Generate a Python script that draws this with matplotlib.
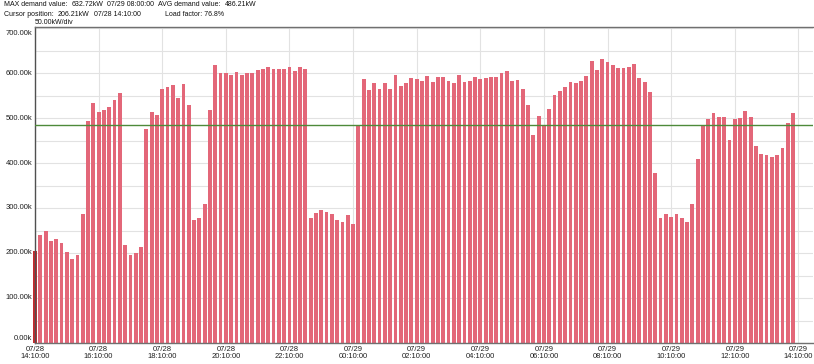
import matplotlib
matplotlib.use("Agg")
from matplotlib import pyplot as plt
from matplotlib import font_manager
from matplotlib import transforms

# demand readings, kW, every 10 min from 07/28 14:10
demand = [
    206.21, 241, 250, 228, 231, 224, 204, 187, 196, 288,
    495, 535, 515, 519, 525, 541, 556, 218, 196, 201,
    214, 477, 514, 507, 565, 570, 574, 546, 577, 530,
    274, 278, 310, 518, 619, 601, 601, 597, 603, 597,
    601, 601, 607, 610, 614, 610, 610, 610, 615, 605,
    615, 610, 279, 290, 296, 293, 287, 274, 270, 286,
    266, 484, 587, 563, 578, 565, 579, 566, 596, 572,
    579, 590, 587, 583, 595, 581, 592, 592, 583, 578,
    596, 581, 584, 592, 587, 590, 592, 592, 601, 605,
    584, 585, 565, 531, 464, 505, 485, 521, 552, 561,
    570, 580, 578, 584, 594, 627, 607, 632.72, 625, 618,
    612, 612, 615, 622, 589, 580, 558, 379, 278, 287,
    281, 287, 278, 270, 310, 410, 483, 499, 512, 503,
    503, 452, 499, 501, 516, 503, 438, 421, 418, 414,
    418, 434, 490, 512,
]
avg_demand = 486.21
x_labels = ["07/28\n14:10:00", "07/28\n16:10:00", "07/28\n18:10:00", "07/28\n20:10:00",
            "07/28\n22:10:00", "07/29\n00:10:00", "07/29\n02:10:00", "07/29\n04:10:00",
            "07/29\n06:10:00", "07/29\n08:10:00", "07/29\n10:10:00", "07/29\n12:10:00",
            "07/29\n14:10:00"]
y_ticks = [0, 100, 200, 300, 400, 500, 600, 700]

# narrow font if we have it
names = {f.name for f in font_manager.fontManager.ttflist}
if "Liberation Sans Narrow" in names:
    plt.rcParams['font.family'] = "Liberation Sans Narrow"
    fs = 6
else:
    plt.rcParams['font.family'] = "Liberation Sans"
    fs = 5.5

W, H = 814, 364
fig = plt.figure(figsize=(W / 100, H / 100), dpi=100)
fig.patch.set_facecolor("white")

left, right, top, bottom = 35, 813, 26.7, 343.3
ax = fig.add_axes([left / W, (H - bottom) / H, (right - left) / W, (bottom - top) / H])

step = 5.315  # px per bar
x0 = (left - 33) / step
ax.set_xlim(x0, x0 + (right - left) / step)
ax.set_ylim(0, 704)

idx = list(range(len(demand)))
ax.bar(idx[1:], demand[1:], width=0.72, color="#E36779", zorder=2)
ax.bar(idx[:1], demand[:1], width=0.72, color="#C42A2E", zorder=2, clip_on=False)

ax.axhline(avg_demand, color="#4E8A3A", lw=1, zorder=3)

ax.set_yticks(list(range(0, 701, 50)), minor=True)
ax.set_yticks(y_ticks)
ax.set_yticklabels([f"{v:.2f}k" for v in y_ticks], fontsize=fs)
ax.set_xticks(list(range(0, 145, 12)))
ax.set_xticklabels(x_labels, fontsize=fs, linespacing=1.0)
ax.tick_params(length=0, pad=2, colors="#202020")
ax.tick_params(which="minor", length=0)
ax.grid(True, which="both", color="#E2E2E2", lw=0.8, zorder=0)

# y labels sit a touch above their lines, the 0 one more so, the top one lower
shifts = [4, 1, 1, 1, 1, 1, 1, -3]
for lab, d in zip(ax.get_yticklabels(), shifts):
    lab.set_transform(lab.get_transform() + transforms.ScaledTranslation(0, d / 72, fig.dpi_scale_trans))

for s in ["top", "left", "bottom"]:
    ax.spines[s].set_color("#707070")
    ax.spines[s].set_linewidth(1)
ax.spines["right"].set_visible(False)
ax.spines["left"].set_color("#505050")

# header text, each piece placed after the previous one
renderer = fig.canvas.get_renderer()
hfs = 5

def line(py, pieces):
    end = 0
    for px, s in pieces:
        px = max(px, end + 4)
        t = fig.text(px / W, 1 - py / H, s, fontsize=hfs, va="center", ha="left", color="#111111")
        bb = t.get_window_extent(renderer)
        end = bb.x1

line(4.5, [(1, "MAX demand value:"), (55, "632.72kW"), (88, "07/29 08:00:00"),
           (133, "AVG demand value:"), (192, "486.21kW")])
line(14.5, [(1, "Cursor position:"), (55, "206.21kW"), (87, "07/28 14:10:00"),
            (165, "Load factor: 76.8%")])
line(22.5, [(35, "50.00kW/div")])

fig.savefig("out.png", dpi=100)
